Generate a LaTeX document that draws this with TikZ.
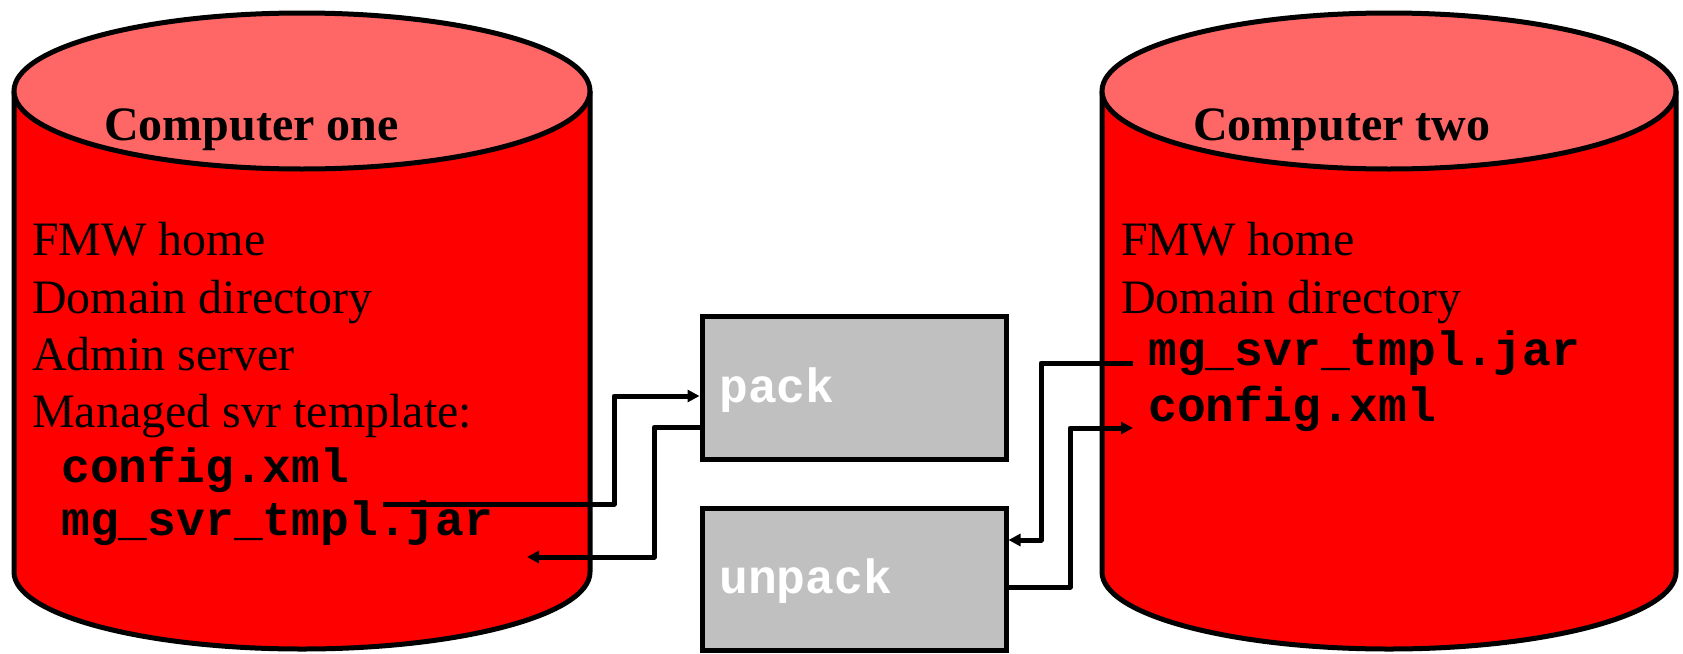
\documentclass[tikz,border=0pt]{standalone}
\usepackage{fontspec}
\setmainfont{Liberation Serif}
\newfontfamily\monofnt{Liberation Mono}
\usetikzlibrary{arrows.meta,calc}
\definecolor{cyltop}{RGB}{255,102,102}
\definecolor{cylside}{RGB}{255,0,0}
\definecolor{boxgray}{RGB}{192,192,192}
\begin{document}
\begin{tikzpicture}[x=1pt,y=-1pt,
  outline/.style={line width=5pt, draw=black},
  body/.style={font=\fontsize{48}{57}\selectfont, anchor=base west, inner sep=0pt},
  titletext/.style={body, font=\fontsize{48}{57}\selectfont\bfseries},
  code/.style={body, font=\fontsize{48}{57}\selectfont\monofnt\bfseries},
  boxtext/.style={code, text=white},
  opbox/.style={draw, line width=5pt, fill=boxgray, minimum width=304pt, minimum height=143pt, inner sep=0pt},
  conn/.style={draw=black, line width=5pt, line join=round},
  tip/.style={-{Triangle[length=12pt,width=12pt]}}]
\useasboundingbox (0,0) rectangle (1683,653);

% left cylinder
\fill[cylside] (14,91) -- (14,572) arc[start angle=180,end angle=0,x radius=288,y radius=77] -- (590,91) -- cycle;
\draw[outline] (14,91) -- (14,572) arc[start angle=180,end angle=0,x radius=288,y radius=77] -- (590,91);
\draw[outline, fill=cyltop] (302,91) ellipse [x radius=288, y radius=78];

% right cylinder
\fill[cylside] (1102,91) -- (1102,572) arc[start angle=180,end angle=0,x radius=287,y radius=77] -- (1676,91) -- cycle;
\draw[outline] (1102,91) -- (1102,572) arc[start angle=180,end angle=0,x radius=287,y radius=77] -- (1676,91);
\draw[outline, fill=cyltop] (1389,91) ellipse [x radius=287, y radius=78];

% texts left
\node[titletext] (t1) at (104,140) {Computer one};
\node[body] (l1) at (32,255) {FMW home};
\node[body] (l2) at (32,313) {Domain directory};
\node[body] (l3) at (32,370) {Admin server};
\node[body] (l4) at (32,427) {Managed svr template:};
\node[code] (l5) at (61,482) {config.xml};
\node[code] (l6) at (61,535) {mg\_svr\_tmpl.jar};

% texts right
\node[titletext] (t2) at (1193,140) {Computer two};
\node[body] (r1) at (1121,255) {FMW home};
\node[body] (r2) at (1121,313) {Domain directory};
\node[code] (r3) at (1148,365) {mg\_svr\_tmpl.jar};
\node[code] (r4) at (1148,421) {config.xml};

% boxes
\node[opbox] (pack) at (854,387.5) {};
\node[opbox, minimum height=142pt] (unpack) at (854,579) {};
\node[boxtext] (packlbl) at (719,402) {pack};
\node[boxtext] (unpacklbl) at (719,593) {unpack};

% connectors
\coordinate (s1) at (383,504);
\coordinate (e2) at (527,557);
\coordinate (s3) at (1133,363);
\coordinate (e4) at (1133,428);
\draw[conn,tip] (s1) -- (614,504) -- (614,396) -- ($(pack.west)+(0,8.5)$);
\draw[conn,tip] ($(pack.west)+(0,40)$) -- (654,427.5) -- (654,557) -- (e2);
\draw[conn,tip] (s3) -- (1041,363) -- (1041,540) -- ($(unpack.east)+(0,-39)$);
\draw[conn,tip] ($(unpack.east)+(0,8)$) -- (1070,587) -- (1070,428) -- (e4);
\end{tikzpicture}
\end{document}
